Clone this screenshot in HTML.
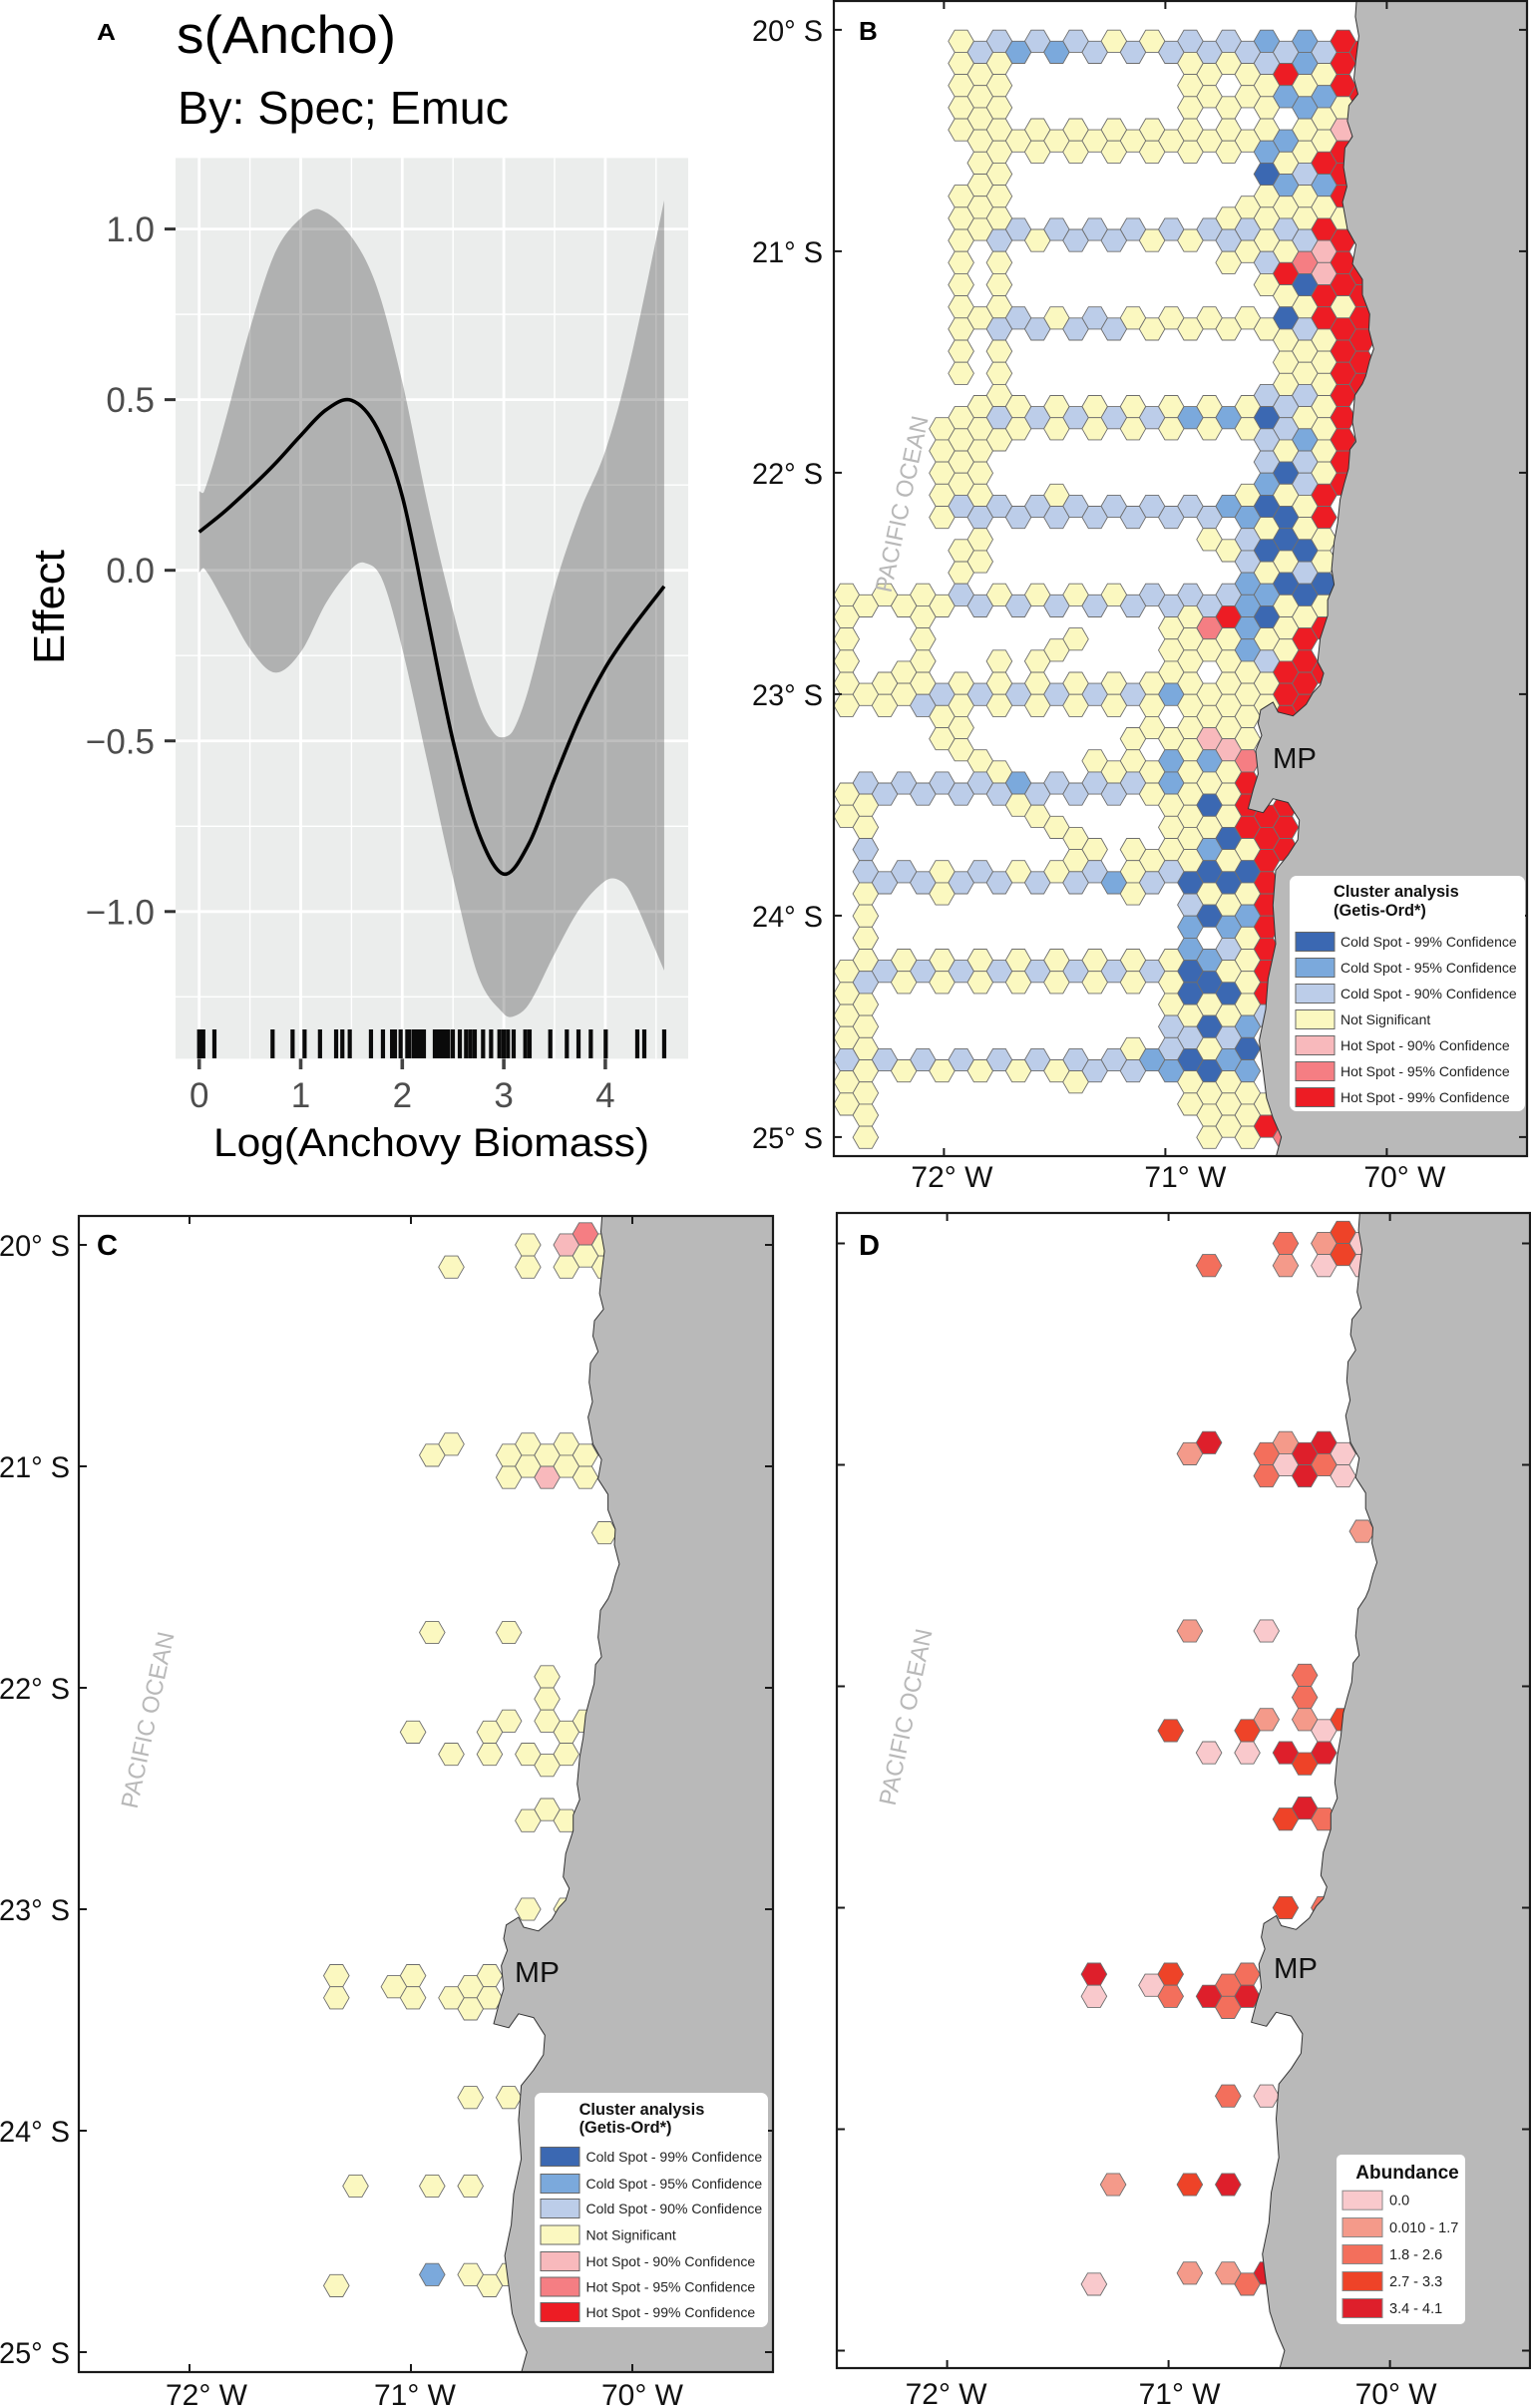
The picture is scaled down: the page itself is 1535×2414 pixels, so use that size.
<!DOCTYPE html>
<html lang="en">
<head>
<meta charset="utf-8">
<title>Anchovy biomass effect and Getis-Ord cluster maps</title>
<style>
html,body{margin:0;padding:0;background:#fff;width:1535px;height:2414px;overflow:hidden}
svg{display:block;font-family:"Liberation Sans",Arial,sans-serif}
</style>
</head>
<body>
<svg id="figure" xmlns="http://www.w3.org/2000/svg" width="1535" height="2414" viewBox="0 0 1535 2414">
<rect x="0" y="0" width="1535" height="2414" fill="#ffffff"/>
<g id="panelA"></g>
<g id="panelB"></g>
<g id="panelC"></g>
<g id="panelD"></g>
<g>
<text x="97" y="40" font-size="23" font-weight="bold" textLength="19" lengthAdjust="spacingAndGlyphs">A</text>
<text x="177" y="53" font-size="53" textLength="220" lengthAdjust="spacingAndGlyphs">s(Ancho)</text>
<text x="178" y="124" font-size="46" textLength="332" lengthAdjust="spacingAndGlyphs">By: Spec; Emuc</text>
<text transform="translate(64,666) rotate(-90)" font-size="44" textLength="115" lengthAdjust="spacingAndGlyphs">Effect</text>
<text x="214" y="1159" font-size="40" textLength="437" lengthAdjust="spacingAndGlyphs">Log(Anchovy Biomass)</text>
</g>
<g>
<text x="861" y="40" font-size="26" font-weight="bold">B</text>
<text x="97" y="1258" font-size="29" font-weight="bold" textLength="21" lengthAdjust="spacingAndGlyphs">C</text>
<text x="861" y="1258" font-size="29" font-weight="bold" textLength="21" lengthAdjust="spacingAndGlyphs">D</text>
</g>
<g fill="#111">
<text x="1276" y="770" font-size="29" textLength="44" lengthAdjust="spacingAndGlyphs">MP</text>
<text x="516" y="1987" font-size="29" textLength="45" lengthAdjust="spacingAndGlyphs">MP</text>
<text x="1277" y="1983" font-size="29" textLength="44" lengthAdjust="spacingAndGlyphs">MP</text>
<text transform="translate(912,507) rotate(-78)" text-anchor="middle" font-size="24" fill="#b8b8b8" textLength="180" lengthAdjust="spacingAndGlyphs">PACIFIC OCEAN</text>
<text transform="translate(156,1726) rotate(-78)" text-anchor="middle" font-size="24" fill="#b8b8b8" textLength="180" lengthAdjust="spacingAndGlyphs">PACIFIC OCEAN</text>
<text transform="translate(916,1723) rotate(-78)" text-anchor="middle" font-size="24" fill="#b8b8b8" textLength="180" lengthAdjust="spacingAndGlyphs">PACIFIC OCEAN</text>
</g>
<g id="legendB"></g>
<g id="legendC"></g>
<g id="legendD"></g>
</svg>
<script>
/* ---------- Panel A data ---------- */
const fitX = [0,0.25,0.5,0.75,1,1.25,1.5,1.75,2,2.25,2.5,2.75,3,3.25,3.5,3.75,4,4.25,4.58];
const fitY = [0.112,0.172,0.24,0.313,0.395,0.47,0.498,0.418,0.217,-0.14,-0.5,-0.767,-0.89,-0.80,-0.61,-0.43,-0.286,-0.175,-0.047];
const upperX = [0,0.05,0.25,0.5,0.75,1,1.19,1.5,1.75,2,2.25,2.5,2.75,2.9,3,3.1,3.25,3.5,3.75,4,4.25,4.58];
const upperY = [0.232,0.232,0.43,0.708,0.932,1.032,1.057,0.977,0.83,0.552,0.194,-0.118,-0.387,-0.476,-0.489,-0.465,-0.342,-0.05,0.172,0.35,0.62,1.084];
const lowerX = [0,0.05,0.25,0.5,0.75,1,1.25,1.5,1.63,1.8,2,2.25,2.5,2.75,3,3.1,3.25,3.5,3.75,4,4.13,4.25,4.58];
const lowerY = [-0.007,0.005,-0.096,-0.23,-0.30,-0.24,-0.096,0.004,0.022,-0.025,-0.23,-0.565,-0.90,-1.19,-1.30,-1.307,-1.27,-1.124,-0.99,-0.91,-0.907,-0.945,-1.173];
const rugValues = [0,0.02,0.04,0.15,0.723,0.92,1.038,1.19,1.349,1.41,1.483,1.692,1.81,1.90,1.928,1.984,2.05,2.07,2.115,2.148,2.18,2.213,2.321,2.354,2.387,2.419,2.452,2.498,2.567,2.629,2.672,2.714,2.796,2.875,2.957,2.999,3.041,3.097,3.212,3.254,3.458,3.621,3.736,3.857,4.004,4.315,4.384,4.58];
const xTickValues = [0,1,2,3,4];
const yTickValues = [1,0.5,0,-0.5,-1];
const yTickLabels = ["1.0","0.5","0.0","\u22120.5","\u22121.0"];
const xMinorValues = [0.5,1.5,2.5,3.5,4.5];
const yMinorValues = [0.75,0.25,-0.25,-0.75,-1.25];

/* ---------- Map data ---------- */
const latTicks = [20,21,22,23,24,25];
const lonTicks = [72,71,70];
/* coastline as [degrees west, degrees south] */
const coastLine = [[70.137,19.871],[70.142,19.941],[70.126,20.028],[70.139,20.133],[70.148,20.220],[70.130,20.290],[70.171,20.342],[70.178,20.412],[70.155,20.482],[70.189,20.534],[70.195,20.621],[70.180,20.708],[70.200,20.778],[70.178,20.900],[70.139,20.970],[70.155,21.057],[70.110,21.127],[70.110,21.197],[70.077,21.284],[70.081,21.354],[70.059,21.441],[70.077,21.493],[70.095,21.563],[70.110,21.598],[70.144,21.650],[70.155,21.772],[70.139,21.860],[70.166,21.895],[70.173,21.982],[70.193,22.052],[70.211,22.121],[70.222,22.226],[70.238,22.313],[70.249,22.435],[70.238,22.505],[70.267,22.575],[70.267,22.645],[70.301,22.749],[70.312,22.854],[70.285,22.906],[70.301,22.959],[70.334,22.994],[70.364,23.046],[70.424,23.098],[70.491,23.081],[70.514,23.036],[70.570,23.071],[70.581,23.133],[70.565,23.186],[70.592,23.255],[70.581,23.360],[70.603,23.430],[70.626,23.517],[70.558,23.535],[70.514,23.472],[70.446,23.489],[70.395,23.569],[70.402,23.657],[70.446,23.726],[70.502,23.796],[70.514,23.953],[70.502,24.128],[70.536,24.285],[70.547,24.424],[70.576,24.564],[70.558,24.703],[70.543,24.825],[70.514,24.913],[70.476,25.000],[70.502,25.094]];

/* Panel B: Gi* class per grid row; each string holds 14 survey cells from west to east.
   a,b,c = cold 90/95/99, n = not significant, x,y,z = hot 90/95/99, . = no cell */
const panelBRows = [
"...naaannaabbz","...abbaaaaaaaz","...nn....nnabz","...n.....nnzn.","...nn....n.nnz","...n.....nnbbz","...nn....nnnbn","...n........n.",
"...nnnnnnnnnnx","...nnnnnnnnbn.","....nnnnnnnbnz","...n.......nz.","....n......caz","...n.......bb.","...nn......nnz","...n......nnn.",
"...nn.....nnnn","...naaaaaaaaz.","...nanaannanaz","..........nnx.","...nn.....nayz","...........zxz","...nn......ncz","...........nzz",
"...nn.......nn","...nanannnnczz","...naaaannnnaz","...........nnz","...nn.......nz","...........nnz","...nn.......nz","...........nnz",
"....n......aaz","...nnnnnnnnan.","...naaaaabbcnz","..nnnnnnnnnan.","...nn......abz","..nn.......nn.","...n.......aaz","..nn.......cn.",
"...n.......baz","..nn.n....nnz.","...aaaaaaabcn.","..naaaaaaabcz.","...........nn.","...n.....nacn.","...n......ncc.","...n......ann.",
"...n.......na.","..........bcc.","nnnannnnaaabc.","nnnaaaaaaabnn.","n.n......nzcn.","........nybnz.","n.n...n..nnnz.",".....n..nnbn..",
"n.n.nn...nnaz.",".n......n.nzz.","nnnnnnnnnnnnz.","nnaaaaaabnnz..","nnannnnnnnnnz.","..n......nnz..","...n....nnn...","..n....nnxn...",
"...n.....nx...","...n..nnbby...","....n..nnnn...","aaaabaaabnz...","naaaaaaannn...","n...n...nczz..","n....n...nnz..","n....n..nnzz..",
"......n..ncz..","a.....nnnbnz..","......n.nnnz..","aanannanacc...",".aaaaaabaccz..","n.n....n.nn...",".........anz..","n........cb...",
".........bbz..","n.........n...",".........baz..","nnnnnnnnnbn...","naaaaaaaacnz..","annnnnnnncn...","n........ccz..","n.......nnn...",
"n........nna..","n.......acb...","n........aa...","n......nanc...","aaaaaaaabcb...","nnnnnnaabcb...","n.....n..nn...","n........nn...",
"n........nnn..","n........nn...","..........nz..","n........nny.."
];

/* Panels C and D: sampled cells by grid column, grid row */
const sampledCols = [13,12,10,14,13,6,10,12,14,6,10,12,14,5,9,11,13,10,12,9,11,13,14,5,9,11,11,9,11,13,4,8,12,6,8,10,12,11,11,10,12,10,12,0,4,8,3,7,0,4,6,8,7,7,9,1,5,7,5,7,9,0,8];
const sampledRows = [-1,0,0,0,1,2,2,2,2,18,18,18,18,19,19,19,19,20,20,21,21,21,26,35,35,39,41,43,43,43,44,44,44,46,46,46,46,47,51,52,52,60,60,66,66,66,67,67,68,68,68,68,69,77,77,85,85,85,93,93,93,94,94];
const panelCClasses = ("yx"+"nnnnnnnnnnnnnnnnnn"+"x"+"nnnnnnnnnnnnnnnnnnnnnnnnnnnnnnnnnnnnn"+"b"+"nnnn").split("");
const panelDLevels = [3,1,2,0,3,2,1,0,0,4,1,4,1,1,2,4,0,0,2,2,4,0,1,1,0,2,2,1,1,3,3,3,0,0,0,4,4,3,4,3,2,3,2,4,3,2,0,2,0,2,4,4,2,2,0,1,3,4,1,1,4,0,2];

/* Legends */
const clusterLegendLabels = ["Cold Spot - 99% Confidence","Cold Spot - 95% Confidence","Cold Spot - 90% Confidence","Not Significant","Hot Spot - 90% Confidence","Hot Spot - 95% Confidence","Hot Spot - 99% Confidence"];
const clusterLegendKeys = ["c","b","a","n","x","y","z"];
const abundanceLegendLabels = ["0.0","0.010 - 1.7","1.8 - 2.6","2.7 - 3.3","3.4 - 4.1"];

const classColor = {a:"#bccde9",b:"#7ba9dc",c:"#3b68b2",n:"#fbf8c0",x:"#f8b9bc",y:"#f57e83",z:"#ed1c24"};
const levelColor = ["#f9c9cc","#f49a8a","#f36f5c","#ee4328","#de1f2b"];

const NS = "http://www.w3.org/2000/svg";
function mk(parent, tag, attrs){
  const el = document.createElementNS(NS, tag);
  for (const k in attrs) el.setAttribute(k, attrs[k]);
  parent.appendChild(el);
  return el;
}
/* Hermite curve through x-ordered points; tangents follow neighbouring slope */
function smooth(pts){
  const slope = i => {
    const a = pts[Math.max(i-1,0)], b = pts[Math.min(i+1,pts.length-1)];
    return (b[1]-a[1])/(b[0]-a[0]);
  };
  let d = "";
  for (let i = 0; i < pts.length - 1; i++){
    const p1 = pts[i], p2 = pts[i+1], dx = (p2[0]-p1[0])/3;
    const c1x = p1[0] + dx, c1y = p1[1] + slope(i)*dx;
    const c2x = p2[0] - dx, c2y = p2[1] - slope(i+1)*dx;
    d += "C" + c1x.toFixed(1) + " " + c1y.toFixed(1) + " " + c2x.toFixed(1) + " " + c2y.toFixed(1) + " " + p2[0].toFixed(1) + " " + p2[1].toFixed(1);
  }
  return d;
}

/* ---------- Panel A ---------- */
(function(){
  const g = document.getElementById("panelA");
  const L = 176, R = 690, T = 158.4, B = 1061.4;
  const sx = v => 199.7 + 101.8 * v;
  const sy = v => 571.7 - 342.1 * v;
  const bg = mk(g, "rect", {x:L, y:T, width:R-L, height:B-T, fill:"#ebedec"});
  
  
  yMinorValues.forEach(v => {
    const l = mk(g, "line", {x1:L, x2:R, y1:sy(v), y2:sy(v), stroke:"#fff", "stroke-width":1.4});
    
    
  });
  xMinorValues.forEach(v => {
    const l = mk(g, "line", {x1:sx(v), x2:sx(v), y1:T, y2:B, stroke:"#fff", "stroke-width":1.4});
    
    
  });
  yTickValues.forEach((v, i) => {
    const l = mk(g, "line", {x1:L, x2:R, y1:sy(v), y2:sy(v), stroke:"#fff", "stroke-width":2.8});
    
    
    const t = mk(g, "line", {x1:165, x2:L, y1:sy(v), y2:sy(v), stroke:"#333", "stroke-width":3});
    
    
    const lb = mk(g, "text", {x:155, y:sy(v)+12.5, "text-anchor":"end", "font-size":35, fill:"#4d4d4d"});
    
    
    lb.textContent = yTickLabels[i];
  });
  xTickValues.forEach(v => {
    const l = mk(g, "line", {x1:sx(v), x2:sx(v), y1:T, y2:B, stroke:"#fff", "stroke-width":2.8});
    
    
  });
  const up = upperX.map((x,i) => [sx(x), sy(upperY[i])]);
  const lo = lowerX.map((x,i) => [sx(x), sy(lowerY[i])]).reverse();
  const band = mk(g, "path", {d:"M"+up[0][0]+" "+up[0][1]+smooth(up)+"L"+lo[0][0]+" "+lo[0][1]+smooth(lo)+"Z", fill:"#000", "fill-opacity":0.25});
  
  
  const fp = fitX.map((x,i) => [sx(x), sy(fitY[i])]);
  const fit = mk(g, "path", {d:"M"+fp[0][0]+" "+fp[0][1]+smooth(fp), fill:"none", stroke:"#000", "stroke-width":3.6});
  
  
  rugValues.forEach(v => {
    const r = mk(g, "line", {x1:sx(v), x2:sx(v), y1:1032, y2:1061, stroke:"#0a0a0a", "stroke-width":4.2});
    
    
  });
  xTickValues.forEach(v => {
    const t = mk(g, "line", {x1:sx(v), x2:sx(v), y1:B, y2:1072, stroke:"#444", "stroke-width":3.6});
    
    
    const lb = mk(g, "text", {x:sx(v), y:1110, "text-anchor":"middle", "font-size":35, fill:"#4d4d4d"});
    
    
    lb.textContent = String(v);
  });
})();

/* ---------- Maps ---------- */
function hexPath(cx, cy){
  const r = 12.77, hh = 11.1, q = r/2;
  return "M"+(cx-r).toFixed(1)+" "+cy.toFixed(1)+"L"+(cx-q).toFixed(1)+" "+(cy-hh).toFixed(1)+"L"+(cx+q).toFixed(1)+" "+(cy-hh).toFixed(1)+"L"+(cx+r).toFixed(1)+" "+cy.toFixed(1)+"L"+(cx+q).toFixed(1)+" "+(cy+hh).toFixed(1)+"L"+(cx-q).toFixed(1)+" "+(cy+hh).toFixed(1)+"Z";
}
function buildMap(id, box, lonX71, latY20, drawCells, opts){
  const g = document.getElementById(id);
  const sx = lon => lonX71 + (71 - lon) * 222;
  const sy = lat => latY20 + (lat - 20) * 222;
  const clip = mk(g, "clipPath", {id:id+"Clip"});
  mk(clip, "rect", {x:box.l, y:box.t, width:box.r-box.l, height:box.b-box.t});
  const body = mk(g, "g", {"clip-path":"url(#"+id+"Clip)"});
  
  
  drawCells(body, sx, sy);
  let d = "M" + (box.r+4) + " " + (box.t-4) + "L" + sx(coastLine[0][0]).toFixed(1) + " " + (box.t-4);
  coastLine.forEach(p => { d += "L" + sx(p[0]).toFixed(1) + " " + sy(p[1]).toFixed(1); });
  d += "L" + sx(coastLine[coastLine.length-1][0]).toFixed(1) + " " + (box.b+4) + "L" + (box.r+4) + " " + (box.b+4) + "Z";
  const land = mk(body, "path", {d:d, fill:"#b9b9b9", stroke:"#333", "stroke-width":1, "stroke-linejoin":"round"});
  
  
  const frame = mk(g, "rect", {x:box.l, y:box.t, width:box.r-box.l, height:box.b-box.t, fill:"none", stroke:"#1a1a1a", "stroke-width":2.2});
  
  
  latTicks.forEach(lat => {
    [[box.l, box.l+8],[box.r-8, box.r]].forEach(s => {
      const t = mk(g, "line", {x1:s[0], x2:s[1], y1:sy(lat), y2:sy(lat), stroke:"#1a1a1a", "stroke-width":2});
      
      
    });
    if (opts.latLabelX){
      const lb = mk(g, "text", {x:opts.latLabelX, y:sy(lat)+11, "text-anchor":"end", "font-size":30, fill:"#111", textLength:71, lengthAdjust:"spacingAndGlyphs"});
      
      
      lb.textContent = lat + "\u00b0 S";
    }
  });
  lonTicks.forEach((lon, i) => {
    [[box.t, box.t+8],[box.b-8, box.b]].forEach(s => {
      const t = mk(g, "line", {x1:sx(lon), x2:sx(lon), y1:s[0], y2:s[1], stroke:"#1a1a1a", "stroke-width":2});
      
      
    });
    const lb = mk(g, "text", {x:sx(lon)+opts.lonShift[i], y:opts.lonLabelY, "text-anchor":"middle", "font-size":30, fill:"#111", textLength:82, lengthAdjust:"spacingAndGlyphs"});
    
    
    lb.textContent = lon + "\u00b0 W";
  });
}
const bLon = col => 72.44 - 0.08626 * col;
const bLat = row => 20.0514 + 0.05 * row;
const sLon = col => 71.3365 - 0.0865 * col;
const sLat = row => 20.0 + 0.05 * row;

buildMap("panelB", {l:836,r:1531,t:1,b:1159}, 1168.4, 29.9, (body, sx, sy) => {
  panelBRows.forEach((row, h) => {
    row.split("").forEach((code, k) => {
      if (code === ".") return;
      const col = 2*k + (h % 2);
      const hex = mk(body, "path", {d:hexPath(sx(bLon(col)), sy(bLat(h))), fill:classColor[code], stroke:"#6e6e6e", "stroke-width":0.9});
      
      
    });
  });
}, {latLabelX:825, lonLabelY:1190, lonShift:[8,20,18]});

buildMap("panelC", {l:79,r:775,t:1219,b:2378}, 412, 1248, (body, sx, sy) => {
  sampledCols.forEach((col, i) => {
    const hex = mk(body, "path", {d:hexPath(sx(sLon(col)), sy(sLat(sampledRows[i]))), fill:classColor[panelCClasses[i]], stroke:"#6e6e6e", "stroke-width":0.9});
    
    
  });
}, {latLabelX:70, lonLabelY:2411, lonShift:[17,4,10]});

buildMap("panelD", {l:839,r:1534,t:1216,b:2374}, 1171.6, 1246.5, (body, sx, sy) => {
  sampledCols.forEach((col, i) => {
    const hex = mk(body, "path", {d:hexPath(sx(sLon(col)), sy(sLat(sampledRows[i]))), fill:levelColor[panelDLevels[i]], stroke:"#6e6e6e", "stroke-width":0.9});
    
    
  });
}, {latLabelX:0, lonLabelY:2410, lonShift:[-1,11,6]});

/* ---------- Legends ---------- */
function clusterLegend(id, box, swX, textX, titleX, titleY, rowYs){
  const g = document.getElementById(id);
  const bg = mk(g, "rect", {x:box.l, y:box.t, width:box.r-box.l, height:box.b-box.t, rx:7, fill:"#fff"});
  
  
  ["Cluster analysis","(Getis-Ord*)"].forEach((s, i) => {
    const t = mk(g, "text", {x:titleX, y:titleY[i], "font-size":16.4, "font-weight":"bold", fill:"#111"});
    
    
    t.textContent = s;
  });
  clusterLegendLabels.forEach((s, i) => {
    const sw = mk(g, "rect", {x:swX, y:rowYs[i]-9.5, width:39, height:19, fill:classColor[clusterLegendKeys[i]], stroke:"#666", "stroke-width":1});
    
    
    const t = mk(g, "text", {x:textX, y:rowYs[i]+4.8, "font-size":14, fill:"#222"});
    
    
    t.textContent = s;
  });
}
const legendBRowY = [944,970,996,1022,1048,1074,1100];
const legendCRowY = [2162,2189,2214,2240.5,2267,2292.5,2318];
clusterLegend("legendB", {l:1293,r:1529,t:878,b:1114}, 1299, 1344, 1337, [899,918], legendBRowY);
clusterLegend("legendC", {l:536,r:770,t:2098,b:2333}, 542, 587.5, 580.6, [2120,2138], legendCRowY);

(function(){
  const g = document.getElementById("legendD");
  const bg = mk(g, "rect", {x:1340, y:2160, width:129, height:170, rx:5, fill:"#fff"});
  
  
  const t = mk(g, "text", {x:1411, y:2184, "text-anchor":"middle", "font-size":19, "font-weight":"bold", fill:"#111"});
  
  
  t.textContent = "Abundance";
  const rowY = [2205.7,2233,2260,2287,2314];
  abundanceLegendLabels.forEach((s, i) => {
    const sw = mk(g, "rect", {x:1346, y:rowY[i]-9.5, width:40, height:19, fill:levelColor[i], stroke:"#888", "stroke-width":1});
    
    
    const l = mk(g, "text", {x:1393, y:rowY[i]+5, "font-size":14.5, fill:"#222"});
    
    
    l.textContent = s;
  });
})();
</script>
</body>
</html>
